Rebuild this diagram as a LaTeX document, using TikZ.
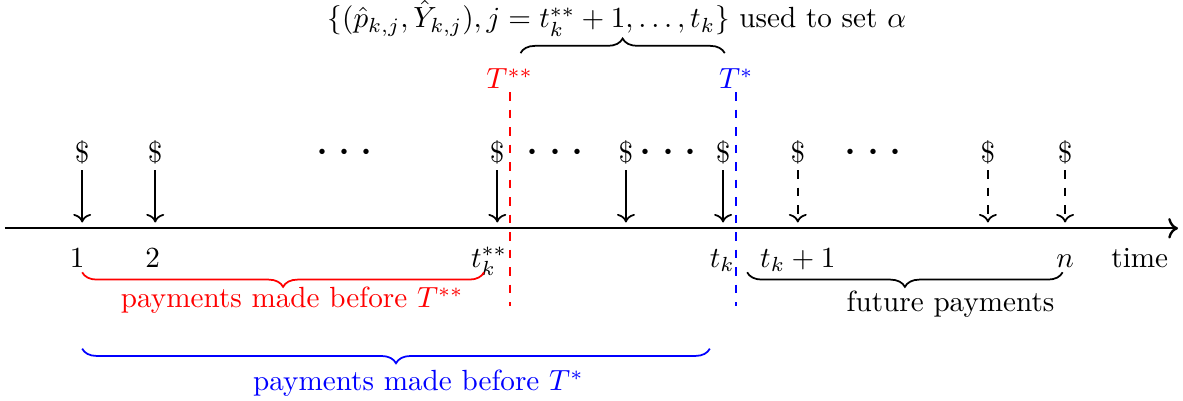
\documentclass[tikz,border=0pt]{standalone}
\usepackage{amsmath,amssymb}
\usetikzlibrary{arrows.meta,positioning,decorations.pathreplacing}

\begin{document}
\begin{tikzpicture}[
  pay/.style={->,semithick},
  fpay/.style={->,semithick,dashed},
  cut/.style={semithick,dashed},
  brc/.style={decorate,decoration={brace,amplitude=5pt},semithick},
  dol/.style={inner sep=2pt},
  dts/.style={font=\LARGE,inner sep=0pt},
  tlbl/.style={anchor=base}
]
  \useasboundingbox (0,-2.07) rectangle (14.25,2.75);
  % Time axis
  \coordinate (ax0) at (0.06,0);
  \coordinate (ax1) at (14.19,0);
  \coordinate (tip) at (0,0.07);
  \draw[thick,->] (ax0) -- (ax1);
  % Payments made
  \node[dol] (d1) at (0.99,0.92) {\$};
  \node[dol] (d2) at (1.87,0.92) {\$};
  \node[dol] (d3) at (5.99,0.92) {\$};
  \node[dol] (d4) at (7.54,0.92) {\$};
  \node[dol] (d5) at (8.71,0.92) {\$};
  \draw[pay] (d1) -- (d1 |- tip);
  \draw[pay] (d2) -- (d2 |- tip);
  \draw[pay] (d3) -- (d3 |- tip);
  \draw[pay] (d4) -- (d4 |- tip);
  \draw[pay] (d5) -- (d5 |- tip);
  % Future payments
  \node[dol] (f1) at (9.61,0.92) {\$};
  \node[dol] (f2) at (11.90,0.92) {\$};
  \node[dol] (f3) at (12.83,0.92) {\$};
  \draw[fpay] (f1) -- (f1 |- tip);
  \draw[fpay] (f2) -- (f2 |- tip);
  \draw[fpay] (f3) -- (f3 |- tip);
  % Dots
  \node[dts] (dt1) at (4.20,0.90) {$\cdots$};
  \node[dts] (dt2) at (6.74,0.90) {$\cdots$};
  \node[dts] (dt3) at (8.10,0.90) {$\cdots$};
  \node[dts] (dt4) at (10.57,0.90) {$\cdots$};
  % Time labels
  \node[tlbl] (l1) at (0.93,-0.47) {$1$};
  \node[tlbl] (l2) at (1.84,-0.47) {$2$};
  \node[tlbl] (lss) at (5.89,-0.47) {$t_k^{**}$};
  \node[tlbl] (lk) at (8.70,-0.47) {$t_k$};
  \node[tlbl] (lk1) at (9.61,-0.47) {$t_k+1$};
  \node[tlbl] (ln) at (12.83,-0.47) {$n$};
  \node[tlbl] (ltime) at (13.73,-0.47) {time};
  % Cut-off times
  \coordinate (rtop) at (6.14,1.64);
  \coordinate (rbot) at (6.14,-0.93);
  \coordinate (btop) at (8.87,1.64);
  \coordinate (bbot) at (8.87,-0.93);
  \draw[cut,red] (rtop) -- (rbot);
  \draw[cut,blue] (btop) -- (bbot);
  \node[red,above,inner sep=1pt] (Tss) at (rtop) {$T^{**}$};
  \node[blue,above,inner sep=1pt] (Ts) at (btop) {$T^{*}$};
  % Braces
  \coordinate (ua) at (6.27,2.11);
  \coordinate (ub) at (8.73,2.11);
  \draw[brc] (ua) -- (ub);
  \node (utxt) at (7.43,2.53) {$\{(\hat{p}_{k,j},\hat{Y}_{k,j}), j=t_k^{**}+1,\ldots,t_k\}$ used to set $\alpha$};
  \coordinate (ra) at (0.99,-0.53);
  \coordinate (rb) at (5.83,-0.53);
  \draw[brc,red,decoration={mirror}] (ra) -- (rb);
  \node[red] (rtxt) at (3.52,-0.87) {payments made before $T^{**}$};
  \coordinate (fa) at (9.00,-0.53);
  \coordinate (fb) at (12.80,-0.53);
  \draw[brc,decoration={mirror}] (fa) -- (fb);
  \node (ftxt) at (11.45,-0.92) {future payments};
  \coordinate (ba) at (0.99,-1.45);
  \coordinate (bb) at (8.55,-1.45);
  \draw[brc,blue,decoration={mirror}] (ba) -- (bb);
  \node[blue] (btxt) at (5.04,-1.87) {payments made before $T^{*}$};
\end{tikzpicture}
\end{document}
